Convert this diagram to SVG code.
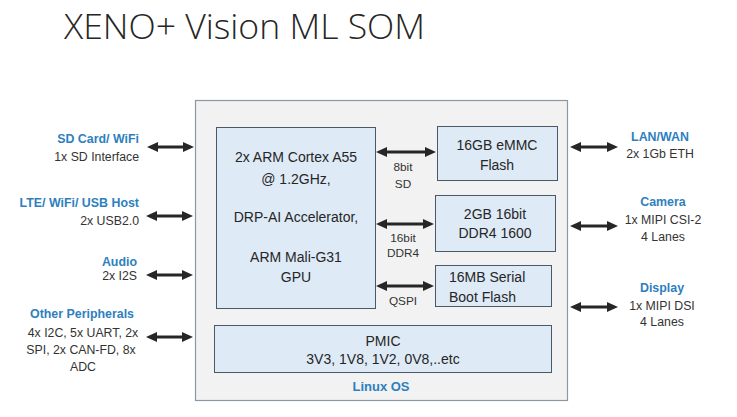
<svg xmlns="http://www.w3.org/2000/svg" width="737" height="417" viewBox="0 0 737 417">
<defs>
<style>
text{font-family:"Liberation Sans",Arial,sans-serif;fill:#333}
.t{font-size:12.3px}
.s{font-size:11.8px}
.b{font-size:12.4px;font-weight:bold;fill:#2E7FBE}
.m{font-size:14px;fill:#262626}
.box{fill:#DEEAF6;stroke:#4A5968;stroke-width:1}
.arr{stroke:#262626;stroke-width:3;marker-start:url(#ah);marker-end:url(#ah)}
</style>
<marker id="ah" markerUnits="userSpaceOnUse" markerWidth="11" markerHeight="10" refX="2" refY="5" orient="auto-start-reverse" viewBox="0 0 11 10">
<path d="M0,0 L11,5 L0,10 z" fill="#262626"/>
</marker>
</defs>
<rect width="737" height="417" fill="#fff"/>
<text x="64" y="39" style="font-family:'Open Sans','Liberation Sans',sans-serif;font-weight:300;font-size:34px;fill:#262626" textLength="361" lengthAdjust="spacingAndGlyphs">XENO+ Vision ML SOM</text>

<g id="som">
<rect x="195.5" y="100.5" width="372" height="300" fill="#F2F2F2" stroke="#8C98A4" stroke-width="1.2"/>
<text x="381" y="391" text-anchor="middle" class="b" style="font-size:13px">Linux OS</text>
</g>
<g id="cpu">
<rect class="box" x="216.5" y="127.5" width="159" height="181"/>
<text x="296" y="162" text-anchor="middle" class="m">2x ARM Cortex A55</text>
<text x="296" y="184" text-anchor="middle" class="m">@ 1.2GHz,</text>
<text x="296" y="222" text-anchor="middle" class="m">DRP-AI Accelerator,</text>
<text x="296" y="262" text-anchor="middle" class="m">ARM Mali-G31</text>
<text x="296" y="282" text-anchor="middle" class="m">GPU</text>
</g>
<g id="emmc">
<rect class="box" x="437.5" y="126.5" width="120" height="54"/>
<text x="497" y="150" text-anchor="middle" class="m">16GB eMMC</text>
<text x="497" y="170" text-anchor="middle" class="m">Flash</text>
</g>
<g id="ddr">
<rect class="box" x="435.5" y="195.5" width="120" height="56"/>
<text x="495" y="219" text-anchor="middle" class="m">2GB 16bit</text>
<text x="495" y="238" text-anchor="middle" class="m">DDR4 1600</text>
</g>
<g id="bootflash">
<rect class="box" x="435.5" y="265.5" width="116" height="41"/>
<text x="449" y="282" class="m">16MB Serial</text>
<text x="449" y="302" class="m">Boot Flash</text>
</g>
<g id="pmic">
<rect class="box" x="214.5" y="325.5" width="337" height="47"/>
<text x="383" y="346" text-anchor="middle" class="m">PMIC</text>
<text x="383" y="364" text-anchor="middle" class="m">3V3, 1V8, 1V2, 0V8,..etc</text>
</g>

<g id="sdcard">
<text x="139" y="143" text-anchor="end" class="b">SD Card/ WiFi</text>
<text x="139" y="161" text-anchor="end" class="t">1x SD Interface</text>
</g>
<g id="lte">
<text x="139" y="207" text-anchor="end" class="b">LTE/ WiFi/ USB Host</text>
<text x="139" y="225" text-anchor="end" class="t">2x USB2.0</text>
</g>
<g id="audio">
<text x="137" y="266" text-anchor="end" class="b">Audio</text>
<text x="137" y="280" text-anchor="end" class="t">2x I2S</text>
</g>
<g id="other">
<text x="82" y="318" text-anchor="middle" class="b">Other Peripherals</text>
<text x="83" y="337" text-anchor="middle" class="t">4x I2C, 5x UART, 2x</text>
<text x="81" y="354" text-anchor="middle" class="t">SPI, 2x CAN-FD, 8x</text>
<text x="83" y="371" text-anchor="middle" class="t">ADC</text>
</g>
<g id="lan">
<text x="660" y="141" text-anchor="middle" class="b">LAN/WAN</text>
<text x="660" y="158" text-anchor="middle" class="t">2x 1Gb ETH</text>
</g>
<g id="camera">
<text x="663" y="206" text-anchor="middle" class="b">Camera</text>
<text x="663" y="224" text-anchor="middle" class="t">1x MIPI CSI-2</text>
<text x="663" y="241" text-anchor="middle" class="t">4 Lanes</text>
</g>
<g id="display">
<text x="662" y="292" text-anchor="middle" class="b">Display</text>
<text x="662" y="310" text-anchor="middle" class="t">1x MIPI DSI</text>
<text x="662" y="326" text-anchor="middle" class="t">4 Lanes</text>
</g>

<g id="connectors">
<line class="arr" x1="156" y1="147" x2="185" y2="147"/>
<line class="arr" x1="155" y1="216" x2="184" y2="216"/>
<line class="arr" x1="155" y1="275" x2="184" y2="275"/>
<line class="arr" x1="155" y1="337" x2="184" y2="337"/>
<line class="arr" x1="385" y1="152" x2="427" y2="152"/>
<line class="arr" x1="385" y1="224" x2="425" y2="224"/>
<line class="arr" x1="385" y1="286" x2="425" y2="286"/>
<line class="arr" x1="579" y1="147" x2="609" y2="147"/>
<line class="arr" x1="579" y1="226" x2="609" y2="226"/>
<line class="arr" x1="579" y1="307" x2="609" y2="307"/>
<text x="403" y="171" text-anchor="middle" class="s">8bit</text>
<text x="403" y="188" text-anchor="middle" class="s">SD</text>
<text x="403" y="242" text-anchor="middle" class="s">16bit</text>
<text x="403" y="257" text-anchor="middle" class="s">DDR4</text>
<text x="403" y="305" text-anchor="middle" class="s">QSPI</text>
</g>
</svg>
